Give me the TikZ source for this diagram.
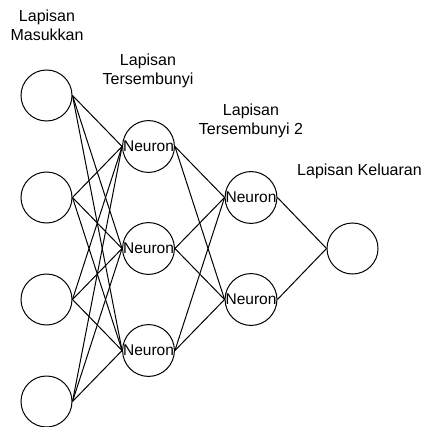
\documentclass[tikz,border=0pt]{standalone}
\usepackage{fontspec}
\setmainfont{Liberation Sans}
\usetikzlibrary{positioning}

\begin{document}
\begin{tikzpicture}[x=1pt,y=-1pt,line width=1pt,
        neuron/.style={draw,circle,minimum size=51pt,inner sep=0pt,
                       font=\fontsize{15.5}{18}\selectfont},
        layer/.style={align=center,inner sep=0pt,
                      font=\fontsize{16}{19}\selectfont}]

                \useasboundingbox (0,0) rectangle (423,427);

                % lapisan masukkan
                \foreach \i/\y in {1/95.5,2/197.5,3/299.5,4/401.5}
                    \node[neuron] (in\i) at (46.5,\y) {};

                % lapisan tersembunyi
                \foreach \i/\y in {1/146.5,2/248.5,3/350.5}
                    \node[neuron] (hia\i) at (148.5,\y) {Neuron};

                % lapisan tersembunyi 2
                \foreach \i/\y in {1/197.5,2/299.5}
                    \node[neuron] (hib\i) at (251,\y) {Neuron};

                % lapisan keluaran
                \node[neuron] (out) at (352.5,248.5) {};

                \node[layer] (lblin) at (47,25.5) {Lapisan\\Masukkan};
                \node[layer] (lblhia) at (148,70.5) {Lapisan\\Tersembunyi};
                \node[layer] (lblhib) at (251,120.5) {Lapisan\\Tersembunyi 2};
                \node[layer] (lblout) at (359.5,171) {Lapisan Keluaran};

                \foreach \from in {1,...,4}
                    \foreach \to in {1,2,3}
                        \draw (in\from.east) -- (hia\to.west);

                \foreach \from in {1,2,3}
                    \foreach \to in {1,2}
                        \draw (hia\from.east) -- (hib\to.west);

                \foreach \from in {1,2}
                    \draw (hib\from.east) -- (out.west);

            \end{tikzpicture}
\end{document}
